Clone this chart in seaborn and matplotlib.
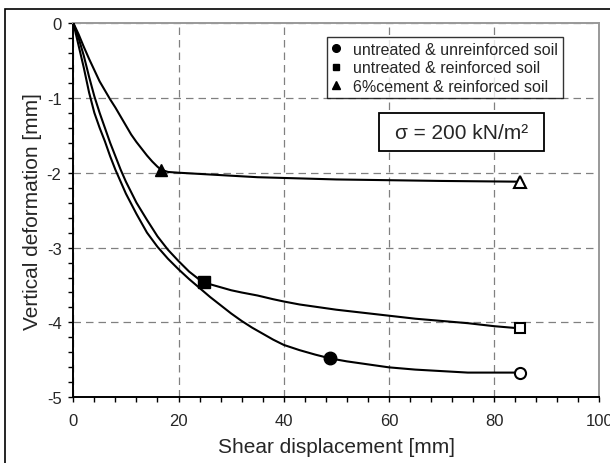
import pandas as pd
import seaborn as sns
import matplotlib.pyplot as plt
from matplotlib.lines import Line2D
from matplotlib.patches import Rectangle
from matplotlib.ticker import MultipleLocator

# shear displacement [mm] vs vertical deformation [mm]
x_unr = [0, 1, 2, 3, 4, 5, 6, 7, 8, 9, 10, 12, 14, 16, 18, 20, 22, 24, 26, 28,
         30, 32, 34, 36, 38, 40, 43, 46, 48.8, 52, 56, 60, 65, 70, 75, 80, 85]
y_unr = [0, -0.3, -0.6, -0.93, -1.2, -1.4, -1.58, -1.78, -1.96, -2.12, -2.28,
         -2.55, -2.8, -2.99, -3.15, -3.29, -3.42, -3.54, -3.66, -3.77, -3.88,
         -3.98, -4.07, -4.15, -4.23, -4.3, -4.37, -4.43, -4.48, -4.52, -4.56,
         -4.6, -4.63, -4.65, -4.67, -4.67, -4.67]

x_rei = [0, 1, 2, 3, 4, 5, 6, 7, 8, 9, 10, 12, 14, 16, 18, 20, 22, 24, 24.9,
         26, 28, 30, 32, 35, 38, 40, 43, 46, 50, 55, 60, 65, 70, 75, 80, 85]
y_rei = [0, -0.2, -0.44, -0.72, -0.98, -1.2, -1.4, -1.6, -1.78, -1.96, -2.12,
         -2.4, -2.63, -2.85, -3.03, -3.18, -3.32, -3.43, -3.46, -3.49, -3.53,
         -3.57, -3.6, -3.64, -3.69, -3.72, -3.76, -3.79, -3.83, -3.87, -3.91,
         -3.95, -3.98, -4.01, -4.05, -4.08]

x_cem = [0, 1, 2, 3, 4, 5, 6, 7, 8, 9, 10, 11, 12, 13, 14, 15, 16, 16.7, 18,
         20, 25, 30, 35, 40, 50, 60, 70, 85]
y_cem = [0, -0.15, -0.32, -0.48, -0.63, -0.78, -0.9, -1.02, -1.13, -1.25,
         -1.37, -1.49, -1.59, -1.68, -1.77, -1.85, -1.92, -1.96, -1.99, -2.0,
         -2.02, -2.04, -2.06, -2.07, -2.09, -2.1, -2.11, -2.12]

labels = ["untreated & unreinforced soil",
          "untreated & reinforced soil",
          "6%cement & reinforced soil"]
markers = ["o", "s", "^"]
mark_at = [48.8, 24.9, 16.7]  # shear displacement of the filled marker

series = [(x_unr, y_unr), (x_rei, y_rei), (x_cem, y_cem)]

sns.set_style("ticks")
plt.rcParams["font.family"] = ["Liberation Sans", "DejaVu Sans"]
plt.rcParams["axes.unicode_minus"] = False

fig = plt.figure(figsize=(6.1, 4.64), dpi=100)
ax = fig.add_axes([0.1202, 0.1416, 0.8623, 0.8067])

for (xs, ys), m, xm in zip(series, markers, mark_at):
    df = pd.DataFrame({"x": xs, "y": ys})
    sns.lineplot(data=df, x="x", y="y", sort=False, estimator=None,
                 color="black", lw=1.5, ax=ax, zorder=3)
    i = xs.index(xm)
    sz = 9 if m != "s" else 8.5
    ax.plot(xs[i], ys[i], marker=m, ms=sz, color="black", zorder=4)
    ax.plot(xs[-1], ys[-1], marker=m, ms=sz - 1, mfc="white", mec="black",
            mew=1.5, zorder=4, ls="none")

ax.set_xlim(0, 100)
ax.set_ylim(-5, 0)
ax.xaxis.set_major_locator(MultipleLocator(20))
ax.xaxis.set_minor_locator(MultipleLocator(4))
ax.yaxis.set_major_locator(MultipleLocator(1))
ax.yaxis.set_minor_locator(MultipleLocator(0.2))
ax.tick_params(which="both", direction="out", length=3.5, width=1,
               color="black", labelsize=12)
ax.tick_params(axis="x", pad=8)
ax.tick_params(axis="y", pad=5)
ax.grid(True, which="major", ls=(0, (6, 4)), color="#808080", lw=0.9)
ax.set_axisbelow(True)

for side in ["left", "bottom"]:
    ax.spines[side].set_color("black")
    ax.spines[side].set_linewidth(1.4)
for side in ["top", "right"]:
    ax.spines[side].set_color("#999999")
    ax.spines[side].set_linewidth(1.4)

ax.set_xlabel("Shear displacement [mm]", fontsize=15, labelpad=6)
ax.set_ylabel("Vertical deformation [mm]", fontsize=15, labelpad=3)

handles = [Line2D([], [], marker=m, ls="none", color="black",
                  ms=5.5 if m != "s" else 5)
           for m in markers]
leg = ax.legend(handles, labels, loc="upper left",
                bbox_to_anchor=(0.482, 0.963), fontsize=11.5, frameon=True,
                fancybox=False, handlelength=0.6, handletextpad=0.75,
                labelspacing=0.22, borderpad=0.3, borderaxespad=0)
leg.get_frame().set_edgecolor("black")
leg.get_frame().set_linewidth(1)

ax.add_patch(Rectangle((0.581, 0.658), 0.3145, 0.1015, transform=ax.transAxes,
                       fc="white", ec="black", lw=1.3, zorder=5))
ax.text(0.738, 0.708, "σ = 200 kN/m²", transform=ax.transAxes,
        fontsize=15, ha="center", va="center", zorder=6)

# outer frame of the picture (runs off right and bottom edges)
fig.patches.append(Rectangle((5 / 610, -0.05), 1.2, 1 - 10 / 464 + 0.05,
                             transform=fig.transFigure, fill=False,
                             ec="black", lw=1.2))

fig.savefig("out.png", dpi=100)
